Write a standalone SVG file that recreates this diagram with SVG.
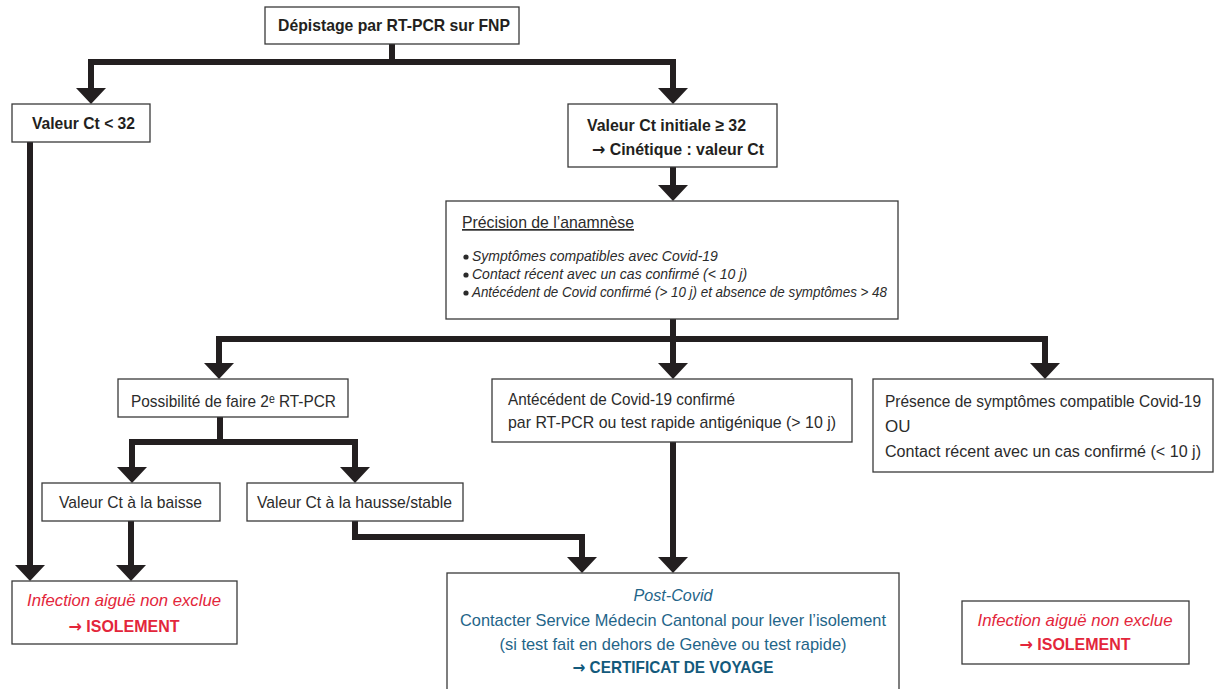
<svg xmlns="http://www.w3.org/2000/svg" width="1215" height="689" viewBox="0 0 1215 689">
<defs>
<style>
.box{fill:#fff;stroke:#3a3a3a;stroke-width:1.3}
.t{font-family:"Liberation Sans",Arial,sans-serif;font-size:17px;fill:#2b2b2b}
.b{font-weight:bold;fill:#231f20}
.i{font-style:italic}
.sm{font-size:14px}
.pr{font-size:15.8px}
.red{fill:#e3263b}
.blue{fill:#1f6589}
.blueb{fill:#135a7c;font-weight:bold}
.ar{font-family:"DejaVu Sans",sans-serif}
.c{fill:none;stroke:#231f20;stroke-width:6;stroke-linejoin:miter;marker-end:url(#ah)}
</style>
<marker id="ah" markerUnits="userSpaceOnUse" markerWidth="16" markerHeight="30" viewBox="-1 -15 16 30" refX="0" refY="0" orient="auto">
<path d="M-1,-15 L15,0 L-1,15 z" fill="#231f20"/>
</marker>
</defs>
<rect width="1215" height="689" fill="#fff"/>

<g id="connectors">
<path class="c" d="M392,44 V62 H91 V89"/>
<path class="c" d="M392,62 H673 V89"/>
<path class="c" d="M673,167 V186"/>
<path class="c" d="M673,319 V339 H219 V364"/>
<path class="c" d="M673,339 V364"/>
<path class="c" d="M673,339 H1045 V364"/>
<path class="c" d="M220,417 V442 H132 V468"/>
<path class="c" d="M220,442 H355 V468"/>
<path class="c" d="M30,142 V566"/>
<path class="c" d="M131,521 V566"/>
<path class="c" d="M355,521 V537 H582 V558"/>
<path class="c" d="M673,442 V558"/>
</g>

<g id="n-depistage">
<rect class="box" x="265" y="7" width="254" height="37"/>
<text class="t b" x="278" y="31" textLength="232" lengthAdjust="spacingAndGlyphs">Dépistage par RT-PCR sur FNP</text>
</g>

<g id="n-ct-inf32">
<rect class="box" x="12" y="104" width="138" height="38"/>
<text class="t b" x="32" y="129" textLength="103" lengthAdjust="spacingAndGlyphs">Valeur Ct &lt; 32</text>
</g>

<g id="n-ct-sup32">
<rect class="box" x="568" y="104" width="209" height="63"/>
<text class="t b" x="587" y="131" textLength="159" lengthAdjust="spacingAndGlyphs">Valeur Ct initiale ≥ 32</text>
<text class="t b" x="592" y="155" textLength="172" lengthAdjust="spacingAndGlyphs"><tspan class="ar">→</tspan> Cinétique : valeur Ct</text>
</g>

<g id="n-precision">
<rect class="box" x="446" y="201" width="452" height="118"/>
<text class="t" x="462" y="228" textLength="172" lengthAdjust="spacingAndGlyphs" text-decoration="underline">Précision de l’anamnèse</text>
<circle cx="466" cy="257" r="2.6" fill="#2b2b2b"/>
<circle cx="466" cy="275" r="2.6" fill="#2b2b2b"/>
<circle cx="466" cy="293" r="2.6" fill="#2b2b2b"/>
<text class="t i sm" x="472" y="261">Symptômes compatibles avec Covid-19</text>
<text class="t i sm" x="472" y="279">Contact récent avec un cas confirmé (&lt; 10 j)</text>
<text class="t i sm" x="472" y="297" textLength="415" lengthAdjust="spacingAndGlyphs">Antécédent de Covid confirmé (&gt; 10 j) et absence de symptômes &gt; 48</text>
</g>

<g id="n-possibilite">
<rect class="box" x="118" y="379" width="230" height="38"/>
<text class="t" x="131" y="407" textLength="205" lengthAdjust="spacingAndGlyphs">Possibilité de faire 2ᵉ RT-PCR</text>
</g>

<g id="n-antecedent">
<rect class="box" x="492" y="379" width="360" height="63"/>
<text class="t" x="508" y="405" textLength="227" lengthAdjust="spacingAndGlyphs">Antécédent de Covid-19 confirmé</text>
<text class="t" x="508" y="428" textLength="328" lengthAdjust="spacingAndGlyphs">par RT-PCR ou test rapide antigénique (&gt; 10 j)</text>
</g>

<g id="n-presence">
<rect class="box" x="873" y="379" width="340" height="93"/>
<text class="t pr" x="885" y="407" textLength="316" lengthAdjust="spacingAndGlyphs">Présence de symptômes compatible Covid-19</text>
<text class="t" x="885" y="432">OU</text>
<text class="t pr" x="885" y="457" textLength="316" lengthAdjust="spacingAndGlyphs">Contact récent avec un cas confirmé (&lt; 10 j)</text>
</g>

<g id="n-baisse">
<rect class="box" x="42" y="483" width="178" height="38"/>
<text class="t" x="59" y="508" textLength="143" lengthAdjust="spacingAndGlyphs">Valeur Ct à la baisse</text>
</g>

<g id="n-hausse">
<rect class="box" x="247" y="483" width="216" height="38"/>
<text class="t" x="257" y="508" textLength="195" lengthAdjust="spacingAndGlyphs">Valeur Ct à la hausse/stable</text>
</g>

<g id="n-isolement-left">
<rect class="box" x="12" y="581" width="225" height="63"/>
<text class="t i red" x="124" y="606" text-anchor="middle" textLength="194" lengthAdjust="spacingAndGlyphs">Infection aiguë non exclue</text>
<text class="t b red" x="124" y="632" text-anchor="middle" textLength="111" lengthAdjust="spacingAndGlyphs"><tspan class="ar">→</tspan> ISOLEMENT</text>
</g>

<g id="n-postcovid">
<rect class="box" x="447" y="573" width="452" height="140"/>
<text class="t i blue" x="673" y="601" text-anchor="middle" textLength="79" lengthAdjust="spacingAndGlyphs">Post-Covid</text>
<text class="t blue" x="673" y="626" text-anchor="middle" textLength="426" lengthAdjust="spacingAndGlyphs">Contacter Service Médecin Cantonal pour lever l’isolement</text>
<text class="t blue" x="673" y="650" text-anchor="middle" textLength="347" lengthAdjust="spacingAndGlyphs">(si test fait en dehors de Genève ou test rapide)</text>
<text class="t blueb" x="673" y="673" text-anchor="middle" textLength="201" lengthAdjust="spacingAndGlyphs"><tspan class="ar">→</tspan> CERTIFICAT DE VOYAGE</text>
</g>

<g id="n-isolement-right">
<rect class="box" x="962" y="601" width="227" height="63"/>
<text class="t i red" x="1075" y="626" text-anchor="middle" textLength="195" lengthAdjust="spacingAndGlyphs">Infection aiguë non exclue</text>
<text class="t b red" x="1075" y="650" text-anchor="middle" textLength="111" lengthAdjust="spacingAndGlyphs"><tspan class="ar">→</tspan> ISOLEMENT</text>
</g>
</svg>
